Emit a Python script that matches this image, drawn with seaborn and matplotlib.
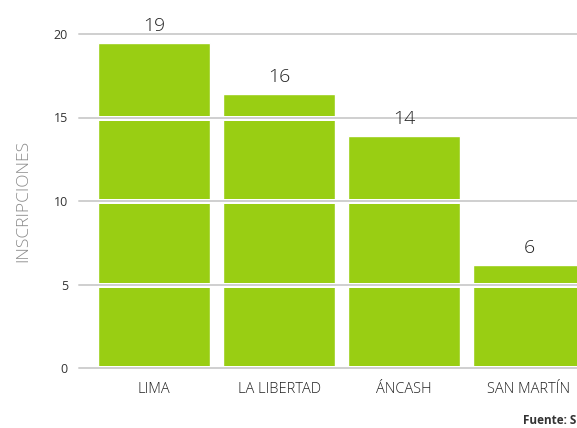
import matplotlib
matplotlib.use('Agg')
import matplotlib.pyplot as plt
import seaborn as sns

regiones = ['LIMA', 'LA LIBERTAD', 'ÁNCASH', 'SAN MARTÍN']
inscripciones = [19.45, 16.4, 13.9, 6.15]
etiquetas = ['19', '16', '14', '6']
yticks = [0, 5, 10, 15, 20]

sns.set_style('white')
plt.rcParams['font.family'] = ['Open Sans', 'DejaVu Sans']

fig = plt.figure(figsize=(5.77, 4.28), dpi=100)
# axes spans past the right edge, as in the reference
ax = fig.add_axes([79 / 577, 60 / 428, 525 / 577, 334 / 428])

sns.barplot(x=regiones, y=inscripciones, color='#99CE13', saturation=1,
            width=0.9, ax=ax, zorder=2)

ax.set_xlim(-0.6, 3.6)
ax.set_ylim(0, 20)
ax.set_yticks(yticks)

# gridlines drawn over the bars with a white halo
for y in yticks:
    ax.axhline(y, color='white', lw=3.6, zorder=3, clip_on=False)
    ax.axhline(y, color='#cfcfcf', lw=1.4, zorder=4, clip_on=False)

for i, (v, t) in enumerate(zip(inscripciones, etiquetas)):
    ax.annotate(t, (i, v), xytext=(0, 6), textcoords='offset points',
                ha='center', va='bottom', fontsize=14, color='#222222',
                fontweight='light', annotation_clip=False, zorder=6)

for key, spine in ax.spines.items():
    spine.set_visible(False)
ax.tick_params(axis='both', length=0, colors='#333333')
ax.tick_params(axis='y', pad=8, labelsize=9)
ax.tick_params(axis='x', pad=10, labelsize=10.5)
for lbl in ax.get_xticklabels():
    lbl.set_fontweight('light')
    lbl.set_color('#222222')
ax.set_xlabel('')
ax.set_ylabel('INSCRIPCIONES', fontsize=12.5, color='#8a8a8a',
              fontweight='light', labelpad=16)

fig.text(523 / 577, 1 - 421 / 428, 'Fuente: S', fontsize=8.5, fontweight='bold',
         color='#333333', ha='left', va='center')

fig.savefig('out.png', dpi=100)
